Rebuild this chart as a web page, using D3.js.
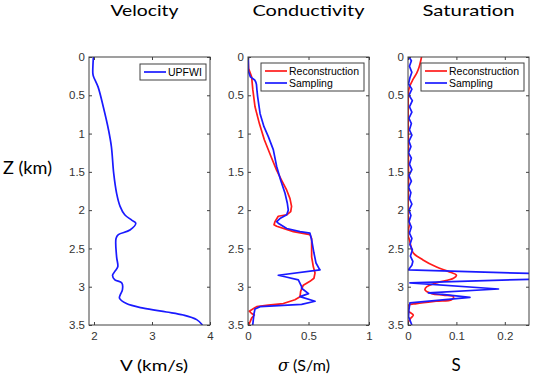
<!DOCTYPE html>
<html>
<head>
<meta charset="utf-8">
<script src="https://cdn.jsdelivr.net/npm/d3@7"></script>
<style>
  body { margin: 0; background: #fff; }
  svg { display: block; }
</style>
</head>
<body>
<div id="chart"></div>
<script>
// depth axis shared by all three panels (km)
const depthTicks = [0, 0.5, 1, 1.5, 2, 2.5, 3, 3.5];

// Velocity (UPFWI)
const velDepth = [0, 0.21, 0.25, 0.39, 0.65, 0.95, 1.17, 1.52, 1.78, 1.95, 2.06, 2.13, 2.17, 2.26, 2.32, 2.37,
    2.61, 2.74, 2.80, 2.85, 2.91, 2.95, 3.04, 3.11, 3.15, 3.22, 3.28, 3.33, 3.37, 3.43, 3.5];
const velValues = [1.99, 1.98, 1.99, 2.07, 2.16, 2.25, 2.30, 2.34, 2.39, 2.45, 2.53, 2.65, 2.72, 2.62, 2.42, 2.38,
    2.39, 2.41, 2.36, 2.32, 2.36, 2.48, 2.49, 2.45, 2.44, 2.56, 2.85, 3.25, 3.54, 3.77, 3.87];
const velTicks = [2, 3, 4];

// Conductivity
const condRecDepth = [0, 0.15, 0.26, 0.43, 0.65, 0.87, 1.08, 1.30, 1.48, 1.61, 1.74, 1.85, 1.95, 2.02, 2.06, 2.08,
    2.15, 2.19, 2.21, 2.28, 2.32, 2.37, 2.61, 2.74, 2.82, 2.89, 2.93, 2.98, 3.06, 3.13, 3.17, 3.22, 3.24, 3.26,
    3.30, 3.32, 3.35, 3.37, 3.41, 3.46, 3.5];
const condRecValues = [0, 0.005, 0.03, 0.04, 0.058, 0.094, 0.135, 0.19, 0.237, 0.278, 0.32, 0.347, 0.36, 0.353, 0.32, 0.25,
    0.223, 0.215, 0.237, 0.375, 0.512, 0.526, 0.526, 0.54, 0.554, 0.545, 0.512, 0.457, 0.435, 0.43, 0.388, 0.292, 0.168, 0.072,
    0.03, 0.011, 0.03, 0.052, 0.03, 0.017, 0.005];
const condSamDepth = [0, 0.04, 0.17, 0.19, 0.26, 0.30, 0.33, 0.36, 0.45, 0.52, 0.74, 0.91, 1.04, 1.21, 1.43, 1.61,
    1.78, 1.91, 2.0, 2.06, 2.11, 2.15, 2.17, 2.24, 2.28, 2.30, 2.39, 2.56, 2.69, 2.77, 2.78, 2.85, 2.87, 2.91,
    3.0, 3.02, 3.09, 3.13, 3.19, 3.23, 3.26, 3.29, 3.35, 3.43, 3.5];
const condSamValues = [0.005, 0.003, 0.003, 0.004, 0.02, 0.055, 0.065, 0.07, 0.075, 0.08, 0.10, 0.132, 0.168, 0.209, 0.237, 0.27,
    0.306, 0.325, 0.333, 0.32, 0.264, 0.237, 0.25, 0.32, 0.43, 0.512, 0.526, 0.545, 0.562, 0.59, 0.595, 0.25, 0.306, 0.416,
    0.443, 0.443, 0.5, 0.43, 0.554, 0.443, 0.10, 0.058, 0.05, 0.044, 0.039];
const condTicks = [0, 0.5, 1];

// Saturation
const satRecDepth = [0, 0.13, 0.21, 0.30, 0.39, 0.45, 1.0, 1.6, 2.1, 2.17, 2.25, 2.33, 2.39, 2.47, 2.56, 2.65,
    2.74, 2.80, 2.85, 2.89, 2.95, 3.0, 3.04, 3.09, 3.11, 3.13, 3.17, 3.19, 3.22, 3.24, 3.28, 3.32, 3.37, 3.41, 3.47, 3.5];
const satRecValues = [0.028, 0.023, 0.018, 0.0097, 0.003, 0.001, 0.0005, 0.001, 0.0005, 0.003, 0.001, 0, 0.003, 0.006, 0.011, 0.031,
    0.058, 0.083, 0.10, 0.094, 0.058, 0.039, 0.035, 0.049, 0.073, 0.094, 0.090, 0.058, 0.018, 0.001, 0, 0.001, 0.011, 0.006, 0, 0];
const satSamDepth = [0, 0.05, 0.12, 0.2, 0.27, 0.35, 0.42, 0.5, 0.57, 0.65, 0.72, 0.8, 0.87, 0.95, 1.02, 1.1,
    1.17, 1.25, 1.32, 1.4, 1.47, 1.55, 1.62, 1.7, 1.77, 1.85, 1.92, 2.0, 2.07, 2.15, 2.22, 2.3, 2.37, 2.45, 2.52, 2.6,
    2.67, 2.72, 2.78, 2.83, 2.90, 2.95, 3.03, 3.08, 3.14, 3.21, 3.3, 3.39, 3.5];
const satSamValues = [0.002, 0.007, 0.003, 0.008, 0.004, 0.001, 0.008, 0.002, 0.009, 0.003, 0.008, 0.002, 0.007, 0.003, 0.008, 0.002,
    0.006, 0.001, 0.007, 0.003, 0.008, 0.002, 0.007, 0.001, 0.006, 0.003, 0.008, 0.002, 0.006, 0.002, 0.007, 0.003, 0.008, 0.004, 0.009, 0.005,
    0.010, 0.008, 0.001, 0.27, 0.27, 0.004, 0.187, 0.042, 0.128, 0.004, 0.002, 0.001, 0.008];
const satTicks = [0, 0.1, 0.2];

const WIDTH = 534;
const HEIGHT = 388;
const TOP = 57;
const BOTTOM = 325;
const RED = '#ff1a1a';
const BLUE = '#1a1aff';
const AXIS_COLOR = '#404040';

const svg = d3.select('#chart')
    .append('svg')
    .attr('width', WIDTH)
    .attr('height', HEIGHT);

const y = d3.scaleLinear().domain([0, 3.5]).range([TOP, BOTTOM]);

const panels = [
    {
        left: 89, right: 210, domain: [1.914, 4], ticks: velTicks, fmt: d3.format('d'),
        title: 'Velocity', titleW: 68, curve: d3.curveCatmullRom,
        series: [{ depth: velDepth, values: velValues, color: BLUE, name: 'UPFWI' }],
        legend: { x: 140, y: 64, w: 66 }
    },
    {
        left: 248, right: 369, domain: [0, 1], ticks: condTicks, fmt: d => d === 0.5 ? '0.5' : d3.format('d')(d),
        title: 'Conductivity', titleW: 112, curve: d3.curveLinear,
        series: [
            { depth: condRecDepth, values: condRecValues, color: RED, name: 'Reconstruction' },
            { depth: condSamDepth, values: condSamValues, color: BLUE, name: 'Sampling' }
        ],
        legend: { x: 261, y: 63, w: 103 }
    },
    {
        left: 408, right: 529, domain: [0, 0.25], ticks: satTicks, fmt: d => d === 0 ? '0' : d3.format('.1f')(d),
        title: 'Saturation', titleW: 92, curve: d3.curveLinear,
        series: [
            { depth: satRecDepth, values: satRecValues, color: RED, name: 'Reconstruction', curve: d3.curveCatmullRom },
            { depth: satSamDepth, values: satSamValues, color: BLUE, name: 'Sampling' }
        ],
        legend: { x: 421, y: 63, w: 103 }
    }
];

panels.forEach((p, idx) => {
    const x = d3.scaleLinear().domain(p.domain).range([p.left, p.right]);
    const g = svg.append('g');

    // clip for lines
    const clipId = 'clip' + idx;
    svg.append('clipPath').attr('id', clipId)
        .append('rect')
        .attr('x', p.left).attr('y', TOP)
        .attr('width', p.right - p.left).attr('height', BOTTOM - TOP);

    // data lines
    p.series.forEach(s => {
        const pts = s.depth.map((d, i) => [s.values[i], d]);
        const line = d3.line()
            .x(d => x(d[0]))
            .y(d => y(d[1]))
            .curve(s.curve || p.curve);
        g.append('path')
            .datum(pts)
            .attr('clip-path', 'url(#' + clipId + ')')
            .attr('d', line)
            .attr('fill', 'none')
            .attr('stroke', s.color)
            .attr('stroke-width', 1.7)
            .attr('stroke-linejoin', 'round');
    });

    // axes (ticks inward like MATLAB)
    const styleAxis = sel => {
        sel.select('.domain').remove();
        sel.selectAll('line').attr('stroke', AXIS_COLOR);
        sel.selectAll('text')
            .attr('fill', '#333')
            .style('font-family', '"Liberation Sans", Arial, sans-serif')
            .style('font-size', '11.5px');
    };
    g.append('g').attr('transform', `translate(${p.left},0)`)
        .call(d3.axisLeft(y).tickValues(depthTicks).tickSize(-3).tickPadding(4)
            .tickFormat(d => d === 0 ? '0' : String(d)))
        .call(styleAxis);
    g.append('g').attr('transform', `translate(${p.right},0)`)
        .call(d3.axisRight(y).tickValues(depthTicks).tickSize(-3).tickFormat(''))
        .call(styleAxis);
    g.append('g').attr('transform', `translate(0,${BOTTOM})`)
        .call(d3.axisBottom(x).tickValues(p.ticks).tickSize(-3).tickPadding(7).tickFormat(p.fmt))
        .call(styleAxis);
    g.append('g').attr('transform', `translate(0,${TOP})`)
        .call(d3.axisTop(x).tickValues(p.ticks).tickSize(-3).tickFormat(''))
        .call(styleAxis);

    // box
    g.append('rect')
        .attr('x', p.left).attr('y', TOP)
        .attr('width', p.right - p.left).attr('height', BOTTOM - TOP)
        .attr('fill', 'none')
        .attr('stroke', AXIS_COLOR)
        .attr('stroke-width', 1);

    // legend
    const L = p.legend;
    const rowH = 12;
    const lg = g.append('g');
    lg.append('rect')
        .attr('x', L.x).attr('y', L.y)
        .attr('width', L.w).attr('height', p.series.length * rowH + 4)
        .attr('fill', '#fff')
        .attr('stroke', AXIS_COLOR)
        .attr('stroke-width', 1);
    p.series.forEach((s, i) => {
        const cy = L.y + 8 + i * rowH;
        lg.append('line')
            .attr('x1', L.x + 4).attr('x2', L.x + 26)
            .attr('y1', cy).attr('y2', cy)
            .attr('stroke', s.color)
            .attr('stroke-width', 1.7);
        lg.append('text')
            .attr('x', L.x + 28).attr('y', cy)
            .attr('dy', '0.35em')
            .style('font-family', '"Liberation Sans", Arial, sans-serif')
            .style('font-size', '10.5px')
            .attr('fill', '#000')
            .text(s.name);
    });

    // title
    svg.append('text')
        .attr('x', (p.left + p.right) / 2 - 5 * (idx === 0 ? 1 : 0))
        .attr('y', 16)
        .attr('text-anchor', 'middle')
        .attr('textLength', p.titleW)
        .attr('lengthAdjust', 'spacingAndGlyphs')
        .style('font-family', 'Lato, "Open Sans", sans-serif')
        .style('font-size', '16px')
        .text(p.title);
});

// x-axis labels under the panels
const labelFont = 'Lato, "Open Sans", sans-serif';
svg.append('text')
    .attr('x', 154).attr('y', 371)
    .attr('text-anchor', 'middle')
    .attr('textLength', 68).attr('lengthAdjust', 'spacingAndGlyphs')
    .style('font-family', labelFont).style('font-size', '16px')
    .text('V (km/s)');

const sig = svg.append('text')
    .attr('x', 304).attr('y', 371)
    .attr('text-anchor', 'middle')
    .style('font-family', labelFont).style('font-size', '16px');
sig.append('tspan')
    .style('font-family', '"DejaVu Serif", "Liberation Serif", serif')
    .style('font-style', 'italic')
    .text('σ');
sig.append('tspan').text(' (S/m)');

svg.append('text')
    .attr('x', 456).attr('y', 371)
    .attr('text-anchor', 'middle')
    .style('font-family', labelFont).style('font-size', '17px')
    .text('S');

svg.append('text')
    .attr('x', 27.5).attr('y', 174)
    .attr('text-anchor', 'middle')
    .attr('textLength', 49).attr('lengthAdjust', 'spacingAndGlyphs')
    .style('font-family', labelFont).style('font-size', '17px')
    .text('Z (km)');
</script>
</body>
</html>
